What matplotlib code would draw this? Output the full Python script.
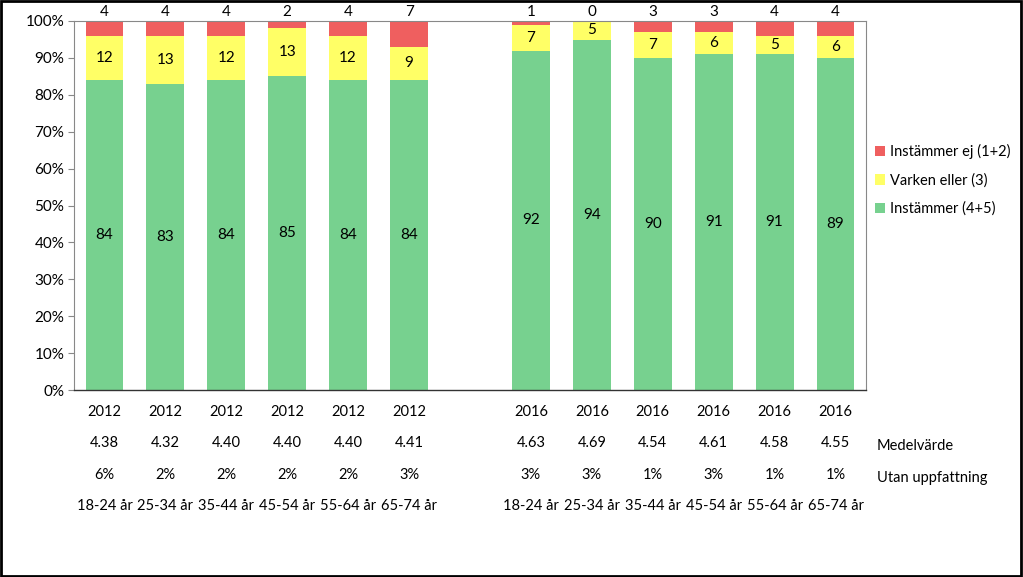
import numpy as np
import matplotlib
matplotlib.use("Agg")
import matplotlib.pyplot as plt
import matplotlib.transforms as mtransforms
from matplotlib.patches import Rectangle

plt.rcParams['font.family'] = ['Lato', 'DejaVu Sans']

years = ["2012"] * 6 + [""] + ["2016"] * 6
ages = ["18-24 år", "25-34 år", "35-44 år", "45-54 år", "55-64 år", "65-74 år"]
age_labels = ages + [""] + ages
medel = ["4.38", "4.32", "4.40", "4.40", "4.40", "4.41", "",
         "4.63", "4.69", "4.54", "4.61", "4.58", "4.55"]
utan = ["6%", "2%", "2%", "2%", "2%", "3%", "",
        "3%", "3%", "1%", "3%", "1%", "1%"]

instammer = [84, 83, 84, 85, 84, 84, None, 92, 94, 90, 91, 91, 89]
varken = [12, 13, 12, 13, 12, 9, None, 7, 5, 7, 6, 5, 6]
ej = [4, 4, 4, 2, 4, 7, None, 1, 0, 3, 3, 4, 4]

series_names = ["Instämmer (4+5)", "Varken eller (3)", "Instämmer ej (1+2)"]
colors = ["#77D18F", "#FFFF66", "#EF5F5F"]

fig = plt.figure(figsize=(10.23, 5.77), dpi=100)
ax = fig.add_axes([74 / 1023, 1 - 390 / 577, (866 - 74) / 1023, (390 - 21) / 577])

x = np.arange(len(instammer))
data = [instammer, varken, ej]
valid = [i for i in x if instammer[i] is not None]
bottoms = np.zeros(len(x))
totals = np.array([sum(d[i] for d in data) if instammer[i] is not None else 1 for i in x], float)
bars = []
for s, (vals, col, name) in enumerate(zip(data, colors, series_names)):
    v = np.array([vals[i] if vals[i] is not None else 0 for i in x], float)
    share = v / totals
    b = ax.bar(x[valid], share[valid], 0.62, bottom=bottoms[valid], color=col,
               label=name, zorder=2)
    bars.append(b)
    for i in valid:
        if s < 2:
            ax.text(i, bottoms[i] + share[i] / 2, str(vals[i]), ha='center',
                    va='center', fontsize=11, color='black')
        else:
            ax.text(i, 1.005, str(vals[i]), ha='center', va='bottom',
                    fontsize=11, color='black')
    bottoms = bottoms + share

ax.set_xlim(-0.5, len(x) - 0.5)
ax.set_ylim(0, 1)
yt = np.arange(0, 1.01, 0.1)
ax.set_yticks(yt)
ax.set_yticklabels([f"{int(round(t * 100))}%" for t in yt], fontsize=11)
ax.tick_params(axis='y', length=4, color='#888888', pad=3)
ax.set_xticks([])
for sp in ['top', 'right', 'left']:
    ax.spines[sp].set_color('#888888')
    ax.spines[sp].set_linewidth(0.8)
ax.spines['bottom'].set_color('#333333')
ax.spines['bottom'].set_linewidth(1.0)

trans = mtransforms.blended_transform_factory(ax.transData, fig.transFigure)
rows = [(years, 412), (medel, 443), (utan, 475), (age_labels, 506)]
for labels, ypix in rows:
    for i, lab in enumerate(labels):
        if lab:
            fig.text(i, 1 - ypix / 577, lab, transform=trans, ha='center',
                     va='center', fontsize=10.5)

fig.text(877 / 1023, 1 - 446 / 577, "Medelvärde", ha='left', va='center', fontsize=10.5)
fig.text(877 / 1023, 1 - 478 / 577, "Utan uppfattning", ha='left', va='center', fontsize=10.5)

handles = [bars[2], bars[1], bars[0]]
leg = fig.legend(handles, [series_names[2], series_names[1], series_names[0]],
                 loc='center left', bbox_to_anchor=(862 / 1023, 1 - 180 / 577),
                 frameon=False, fontsize=10.5, handlelength=0.7, handleheight=0.7,
                 handletextpad=0.3, labelspacing=0.95)

fig.patches.append(Rectangle((0.001, 0.002), 0.997, 0.996, transform=fig.transFigure,
                             fill=False, edgecolor='black', linewidth=2))

fig.savefig("out.png", dpi=100)
